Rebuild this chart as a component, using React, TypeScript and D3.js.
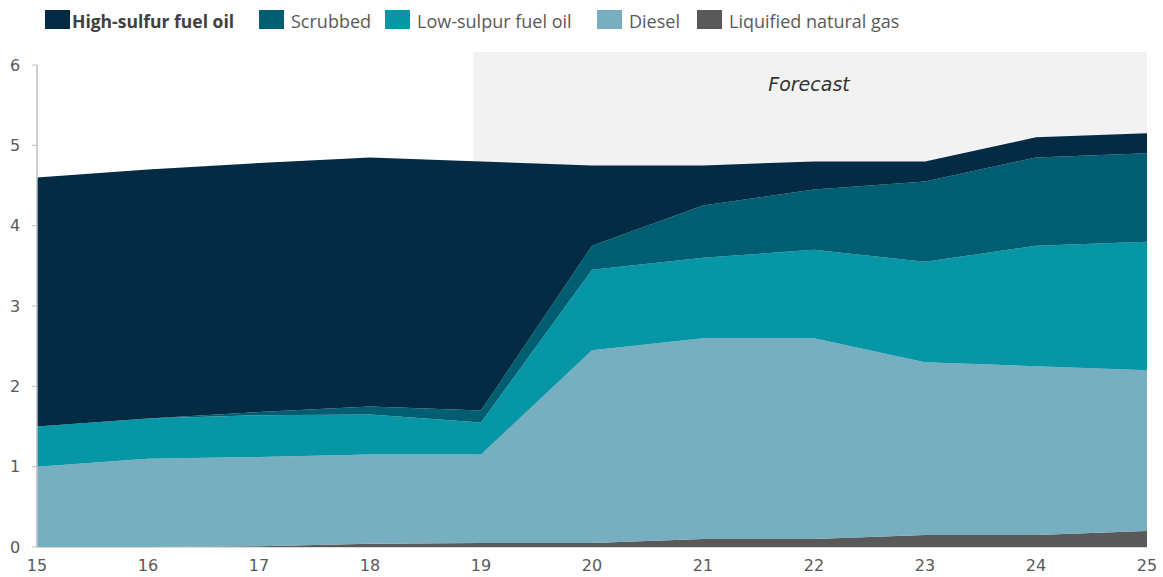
import React from "react";
import * as d3 from "d3";

const years = [15, 16, 17, 18, 19, 20, 21, 22, 23, 24, 25];
const seriesNames = [
  "Liquified natural gas",
  "Diesel",
  "Low-sulpur fuel oil",
  "Scrubbed",
  "High-sulfur fuel oil",
];
const lng = [0, 0, 0.01, 0.04, 0.05, 0.05, 0.1, 0.1, 0.15, 0.15, 0.2];
const diesel = [1.0, 1.1, 1.11, 1.11, 1.1, 2.4, 2.5, 2.5, 2.15, 2.1, 2.0];
const lsfo = [0.5, 0.5, 0.52, 0.5, 0.4, 1.0, 1.0, 1.1, 1.25, 1.5, 1.6];
const scrubbed = [0, 0, 0.04, 0.1, 0.15, 0.3, 0.65, 0.75, 1.0, 1.1, 1.1];
const hsfo = [3.1, 3.1, 3.1, 3.1, 3.1, 1.0, 0.5, 0.35, 0.25, 0.25, 0.25];
const yTicks = [0, 1, 2, 3, 4, 5, 6];
const forecastStart = 18.93;

const colors: Record<string, string> = {
  "High-sulfur fuel oil": "#032b44",
  Scrubbed: "#005e72",
  "Low-sulpur fuel oil": "#0796a6",
  Diesel: "#77afc0",
  "Liquified natural gas": "#595959",
};

const legendOrder = [
  "High-sulfur fuel oil",
  "Scrubbed",
  "Low-sulpur fuel oil",
  "Diesel",
  "Liquified natural gas",
];
const legendX = [45, 259, 385, 597, 697];

export default function App() {
  const W = 1163;
  const H = 577;
  const x = d3.scaleLinear().domain([15, 25]).range([37, 1147]);
  const y = d3.scaleLinear().domain([0, 6]).range([547, 65]);

  const valuesBy: Record<string, number[]> = {
    "Liquified natural gas": lng,
    Diesel: diesel,
    "Low-sulpur fuel oil": lsfo,
    Scrubbed: scrubbed,
    "High-sulfur fuel oil": hsfo,
  };
  const table = years.map((yr, i) => {
    const row: Record<string, number> = { year: yr };
    seriesNames.forEach((n) => (row[n] = valuesBy[n][i]));
    return row;
  });
  const stacked = d3.stack<Record<string, number>>().keys(seriesNames)(table);
  const area = d3
    .area<d3.SeriesPoint<Record<string, number>>>()
    .x((d) => x(d.data.year))
    .y0((d) => y(d[0]))
    .y1((d) => y(d[1]));

  const tickFont = "'DejaVu Sans', Verdana, sans-serif";
  const legendFont = "'Open Sans', 'Noto Sans', sans-serif";

  return (
    <svg
      width={W}
      height={H}
      style={{ position: "absolute", left: 0, top: 0, display: "block", background: "#fff" }}
    >
      <rect
        x={x(forecastStart)}
        y={52}
        width={x(25) - x(forecastStart)}
        height={y(0) - 52}
        fill="#f2f2f2"
      />
      <text
        x={809}
        y={91}
        textAnchor="middle"
        fontFamily={tickFont}
        fontStyle="italic"
        fontSize={19}
        fill="#333"
      >
        Forecast
      </text>
      {stacked.map((s) => (
        <path key={s.key} d={area(s) || ""} fill={colors[s.key]} />
      ))}
      {/* axes */}
      <line x1={x(15)} x2={x(15)} y1={y(6)} y2={y(0)} stroke="#bfbfbf" strokeWidth={1.5} />
      <line x1={x(15)} x2={x(25)} y1={y(0) + 0.5} y2={y(0) + 0.5} stroke="#d9d9d9" strokeWidth={1} />
      {yTicks.map((t) => (
        <g key={t}>
          <line x1={x(15) - 5} x2={x(15)} y1={y(t)} y2={y(t)} stroke="#bfbfbf" />
          <text
            x={15}
            y={y(t)}
            dy="0.35em"
            textAnchor="middle"
            fontFamily={tickFont}
            fontSize={16}
            fill="#595959"
          >
            {t}
          </text>
        </g>
      ))}
      {years.map((yr) => (
        <text
          key={yr}
          x={x(yr)}
          y={571}
          textAnchor="middle"
          fontFamily={tickFont}
          fontSize={16}
          fill="#595959"
        >
          {yr}
        </text>
      ))}
      {/* legend */}
      {legendOrder.map((n, i) => (
        <g key={n}>
          <rect x={legendX[i]} y={10} width={25} height={19} fill={colors[n]} />
          <text
            x={legendX[i] + (i === 0 ? 27 : 32)}
            y={21.5}
            dy="0.35em"
            fontFamily={legendFont}
            fontSize={i === 0 ? 17.5 : 18}
            fontWeight={i === 0 ? 700 : 400}
            fill={i === 0 ? "#404040" : "#595959"}
          >
            {n}
          </text>
        </g>
      ))}
    </svg>
  );
}
